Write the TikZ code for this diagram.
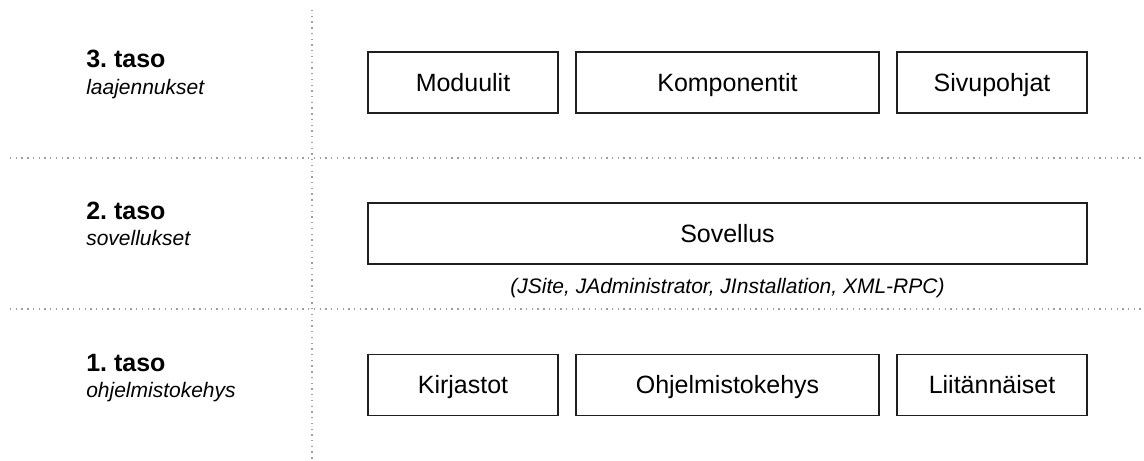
\documentclass[tikz,border=0pt]{standalone}
\usepackage{fontspec}
\setmainfont{Liberation Sans}
\frenchspacing
\begin{document}
\begin{tikzpicture}[x=0.75pt, y=-0.75pt,
  sep/.style={draw=black!38, line width=1pt, dash pattern=on 1pt off 3.3pt},
  box/.style={draw=black!88, line width=1pt, inner sep=0pt, minimum height=45.75pt,
              text height=13.4pt, text depth=0pt,
              font=\fontsize{18.75}{22}\selectfont},
  small/.style={box, minimum width=142.5pt},
  wide/.style={box, minimum width=227.25pt},
  level/.style={anchor=base west, inner sep=0pt, font=\bfseries\fontsize{18.75}{22}\selectfont},
  sublevel/.style={anchor=base west, inner sep=0pt, font=\itshape\fontsize{15.75}{19}\selectfont},
  note/.style={inner sep=0pt, text height=11.3pt, text depth=0pt,
               font=\itshape\fontsize{15.75}{19}\selectfont}]
\useasboundingbox (0,0) rectangle (1144,460);

% separators between the layers
\coordinate (vtop) at (312,10);
\coordinate (vbot) at (312,460);
\coordinate (h1l) at (10,158);
\coordinate (h1r) at (1144,158);
\coordinate (h2l) at (10,309);
\coordinate (h2r) at (1144,309);
\draw[sep] (vtop) -- (vbot);
\draw[sep] (h1l) -- (h1r);
\draw[sep] (h2l) -- (h2r);

% layer titles
\node[level] (t3) at (86,68) {3. taso};
\node[sublevel] (s3) at (86,94) {laajennukset};
\node[level] (t2) at (86,219) {2. taso};
\node[sublevel] (s2) at (86,245) {sovellukset};
\node[level] (t1) at (86,371) {1. taso};
\node[sublevel] (s1) at (86,397) {ohjelmistokehys};

% layer 3: extensions
\node[small] (mod) at (463,82.5) {Moduulit};
\node[wide] (komp) at (727.5,82.5) {Komponentit};
\node[small] (siv) at (992,82.5) {Sivupohjat};

% layer 2: applications
\node[box, minimum width=539.25pt] (sov) at (727.5,233.5) {Sovellus};
\node[note] (sovnote) at (727.5,286) {(JSite, JAdministrator, JInstallation, XML-RPC)};

% layer 1: framework
\node[small] (kirj) at (463,385) {Kirjastot};
\node[wide] (ohj) at (727.5,385) {Ohjelmistokehys};
\node[small] (liit) at (992,385) {Liitännäiset};
\end{tikzpicture}
\end{document}
